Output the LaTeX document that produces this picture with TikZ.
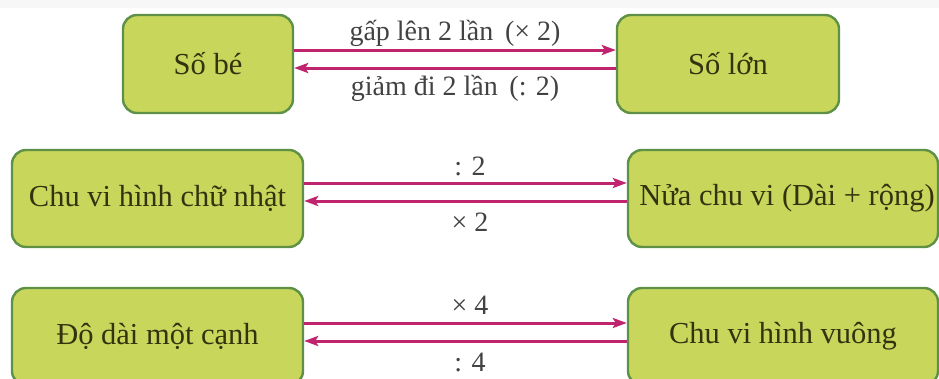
\documentclass[tikz,border=0pt]{standalone}
\usepackage{fontspec}
\setmainfont{Liberation Serif}
\usetikzlibrary{arrows.meta}
\definecolor{boxfill}{HTML}{C8D65C}
\definecolor{boxline}{HTML}{5E9146}
\definecolor{boxtext}{HTML}{33330F}
\definecolor{arrowc}{HTML}{C0246F}
\definecolor{labelc}{HTML}{424242}
\tikzset{
  box/.style={draw=boxline, line width=2.4pt, fill=boxfill, rounded corners=14pt,
    text=boxtext, font=\fontsize{30.5}{36}\selectfont, inner sep=0pt, anchor=center},
  conn/.style={draw=arrowc, line width=3pt, -{Stealth[length=14pt,width=10pt,inset=3pt]}},
  lab/.style={text=labelc, font=\fontsize{28}{34}\selectfont, inner sep=0pt, anchor=center}
}
\begin{document}
\begin{tikzpicture}[x=1pt,y=-1pt]
\clip (0,0) rectangle (939,378);
\fill[white] (0,0) rectangle (939,378);
\fill[black!3] (0,0) rectangle (939,8);
% row 1
\node[box, minimum width=170pt, minimum height=98pt] (sobe) at (208,64) {Số bé};
\node[box, minimum width=222pt, minimum height=98pt] (solon) at (728,64) {Số lớn};
\draw[conn] (sobe.east |- 0,50) -- (solon.west |- 0,50);
\draw[conn] (solon.west |- 0,68) -- (sobe.east |- 0,68);
\node[lab] (l1a) at (455,33) {gấp lên 2 lần\, (× 2)};
\node[lab] (l1b) at (455,88) {giảm đi 2 lần\, (: 2)};
% row 2
\node[box, minimum width=291pt, minimum height=97pt] (cvhcn) at (157.5,198.5) {Chu vi hình chữ nhật};
\node[box, minimum width=310pt, minimum height=97pt] (nuacv) at (783,198.5) {\hspace*{8pt}Nửa chu vi (Dài + rộng)};
\draw[conn] (cvhcn.east |- 0,183) -- (nuacv.west |- 0,183);
\draw[conn] (nuacv.west |- 0,201) -- (cvhcn.east |- 0,201);
\node[lab] (l2a) at (470,166) {: 2};
\node[lab] (l2b) at (470,222) {× 2};
% row 3
\node[box, minimum width=291pt, minimum height=97pt] (canh) at (157.5,336.5) {Độ dài một cạnh};
\node[box, minimum width=310pt, minimum height=97pt] (cvhv) at (783,336.5) {Chu vi hình vuông};
\draw[conn] (canh.east |- 0,323) -- (cvhv.west |- 0,323);
\draw[conn] (cvhv.west |- 0,341) -- (canh.east |- 0,341);
\node[lab] (l3a) at (470,305) {× 4};
\node[lab] (l3b) at (470,362) {: 4};
\end{tikzpicture}
\end{document}
